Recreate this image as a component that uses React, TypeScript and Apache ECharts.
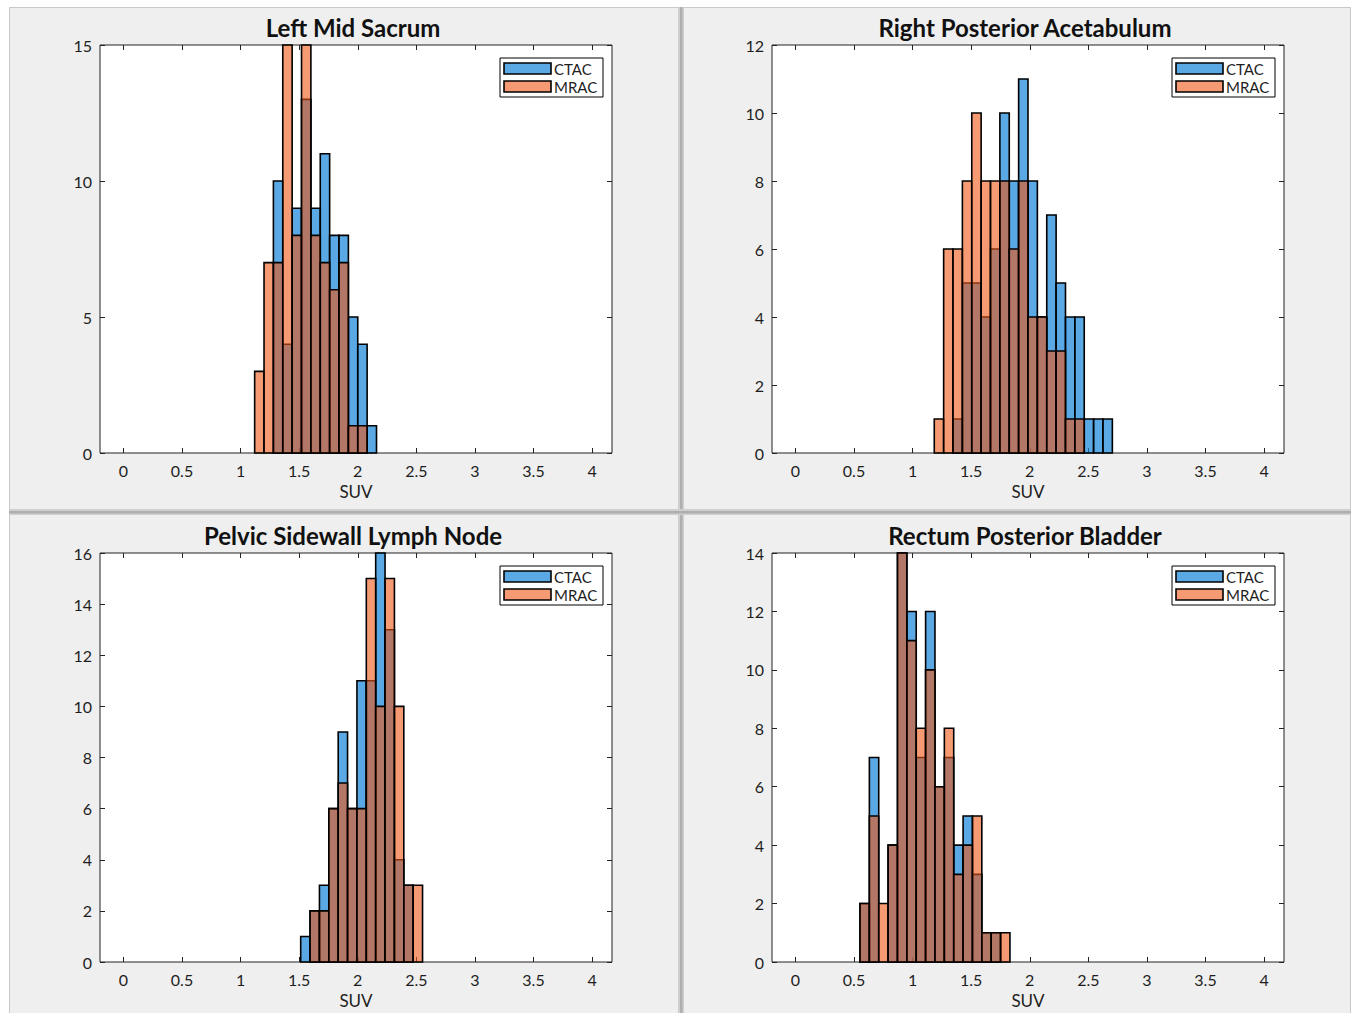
import React, { useEffect, useRef } from "react";
import * as echarts from "echarts";

// ---------- data ----------
const suvTicks = [0, 0.5, 1, 1.5, 2, 2.5, 3, 3.5, 4];
const seriesNames = ["CTAC", "MRAC"];

// Left Mid Sacrum
const lmsEdges = [1.12, 1.2, 1.28, 1.36, 1.44, 1.52, 1.6, 1.68, 1.76, 1.84, 1.92, 2.0, 2.08, 2.16];
const lmsCTAC = [0, 0, 10, 4, 9, 13, 9, 11, 8, 8, 5, 4, 1];
const lmsMRAC = [3, 7, 7, 16, 8, 16, 8, 7, 6, 7, 1, 1, 0];

// Right Posterior Acetabulum
const rpaEdges = [1.185, 1.265, 1.345, 1.425, 1.505, 1.585, 1.665, 1.745, 1.825, 1.905, 1.985, 2.065, 2.145, 2.225, 2.305, 2.385, 2.465, 2.545, 2.625, 2.705];
const rpaCTAC = [0, 0, 1, 5, 5, 4, 6, 10, 8, 11, 8, 4, 7, 5, 4, 4, 1, 1, 1];
const rpaMRAC = [1, 6, 6, 8, 10, 8, 8, 8, 6, 8, 4, 4, 3, 3, 1, 1, 0, 0, 0];

// Pelvic Sidewall Lymph Node
const pslEdges = [1.513, 1.593, 1.673, 1.753, 1.833, 1.913, 1.993, 2.073, 2.153, 2.233, 2.313, 2.393, 2.473, 2.553];
const pslCTAC = [1, 2, 3, 6, 9, 6, 11, 11, 16, 13, 4, 3, 0];
const pslMRAC = [0, 2, 2, 6, 7, 6, 6, 15, 10, 15, 10, 3, 3];

// Rectum Posterior Bladder
const rpbEdges = [0.551, 0.631, 0.711, 0.791, 0.871, 0.951, 1.031, 1.111, 1.191, 1.271, 1.351, 1.431, 1.511, 1.591, 1.671, 1.751, 1.831];
const rpbCTAC = [2, 7, 0, 4, 14, 12, 7, 12, 6, 7, 4, 5, 3, 1, 1, 0];
const rpbMRAC = [2, 5, 2, 4, 14, 11, 8, 10, 6, 8, 3, 4, 5, 1, 1, 1];

const titles = ["Left Mid Sacrum", "Right Posterior Acetabulum", "Pelvic Sidewall Lymph Node", "Rectum Posterior Bladder"];
const edgesList = [lmsEdges, rpaEdges, pslEdges, rpbEdges];
const ctacList = [lmsCTAC, rpaCTAC, pslCTAC, rpbCTAC];
const mracList = [lmsMRAC, rpaMRAC, pslMRAC, rpbMRAC];
const yMaxList = [15, 12, 16, 14];
const yStepList = [5, 2, 2, 2];

// ---------- layout / style ----------
const W = 1354;
const H = 1013;
const gridLefts = [100, 772, 100, 772];
const gridTops = [45, 45, 553, 553];
const gridHeights = [408, 408, 409, 409];
const GRID_W = 512;
const X_MIN = -0.2;
const X_MAX = 4.17;
const FONT = "Lato, 'Liberation Sans', sans-serif";
const TEXT = "#1e1e1e";
const BLUE = "rgba(20,132,218,0.7)";
const ORANGE = "rgba(238,86,20,0.6)";
const PANEL_BG = "#efefef";
const EDGE_W = 1.6;

function binData(edges: number[], counts: number[]) {
  return counts.map((c, i) => [edges[i], edges[i + 1], c]);
}

function makeRender(fill: string) {
  return (params: any, api: any) => {
    const h = api.value(2);
    if (!h) return null;
    const p0 = api.coord([api.value(0), 0]);
    const p1 = api.coord([api.value(1), h]);
    const cs = params.coordSys;
    const shape = echarts.graphic.clipRectByRect(
      { x: p0[0], y: p1[1], width: p1[0] - p0[0], height: p0[1] - p1[1] },
      { x: cs.x, y: cs.y, width: cs.width, height: cs.height }
    );
    if (!shape) return null;
    return {
      type: "rect",
      shape,
      style: { fill, stroke: "#000", lineWidth: EDGE_W },
    };
  };
}

function legendGraphic(x: number, y: number) {
  return {
    type: "group",
    x,
    y,
    children: [
      { type: "rect", shape: { x: 0, y: 0, width: 103, height: 39 }, style: { fill: "#fff", stroke: "#000", lineWidth: 1 } },
      { type: "rect", shape: { x: 4, y: 5, width: 47, height: 11 }, style: { fill: BLUE, stroke: "#000", lineWidth: EDGE_W } },
      { type: "text", x: 54, y: 11, style: { text: seriesNames[0], font: `15px ${FONT}`, fill: TEXT, verticalAlign: "middle" } },
      { type: "rect", shape: { x: 4, y: 23, width: 47, height: 11 }, style: { fill: ORANGE, stroke: "#000", lineWidth: EDGE_W } },
      { type: "text", x: 54, y: 29, style: { text: seriesNames[1], font: `15px ${FONT}`, fill: TEXT, verticalAlign: "middle" } },
    ],
  };
}

function buildOption() {
  const grid: any[] = [];
  const xAxis: any[] = [];
  const yAxis: any[] = [];
  const series: any[] = [];
  const graphic: any[] = [];

  // background panels
  graphic.push({ type: "rect", z: -10, shape: { x: 0, y: 0, width: W, height: H }, style: { fill: "#ffffff" } });
  graphic.push({ type: "rect", z: -9, shape: { x: 9.5, y: 7.5, width: 1341, height: 1010 }, style: { fill: PANEL_BG, stroke: "#c9c9c9", lineWidth: 1 } });
  graphic.push({ type: "rect", z: -8, shape: { x: 678, y: 7, width: 6, height: H }, style: { fill: "#cfcfcf" } });
  graphic.push({ type: "rect", z: -8, shape: { x: 680, y: 7, width: 2.5, height: H }, style: { fill: "#aeaeae" } });
  graphic.push({ type: "rect", z: -8, shape: { x: 9, y: 509, width: 1342, height: 6 }, style: { fill: "#cfcfcf" } });
  graphic.push({ type: "rect", z: -8, shape: { x: 9, y: 511, width: 1342, height: 2.5 }, style: { fill: "#aeaeae" } });

  const tickStyle = { color: "#222", width: 1 };

  for (let g = 0; g < 4; g++) {
    const left = gridLefts[g];
    const top = gridTops[g];
    const hgt = gridHeights[g];
    grid.push({
      left,
      top,
      width: GRID_W,
      height: hgt,
      show: true,
      backgroundColor: "#ffffff",
      borderColor: "#222",
      borderWidth: 1,
      containLabel: false,
    });
    const xBase = {
      type: "value",
      gridIndex: g,
      min: X_MIN,
      max: X_MAX,
      splitLine: { show: false },
      axisLine: { show: false, onZero: false },
    };
    xAxis.push({
      ...xBase,
      position: "bottom",
      name: "SUV",
      nameLocation: "middle",
      nameGap: 30,
      nameTextStyle: { fontFamily: FONT, fontSize: 17, color: TEXT },
      axisTick: { show: true, inside: true, length: 5, lineStyle: tickStyle, customValues: suvTicks },
      axisLabel: { show: true, margin: 9, fontFamily: FONT, fontSize: 16, color: TEXT, customValues: suvTicks },
    });
    xAxis.push({
      ...xBase,
      position: "top",
      axisTick: { show: true, inside: true, length: 5, lineStyle: tickStyle, customValues: suvTicks },
      axisLabel: { show: false },
    });
    const yBase = {
      type: "value",
      gridIndex: g,
      min: 0,
      max: yMaxList[g],
      interval: yStepList[g],
      splitLine: { show: false },
      axisLine: { show: false, onZero: false },
    };
    yAxis.push({
      ...yBase,
      position: "left",
      axisTick: { show: true, inside: true, length: 5, lineStyle: tickStyle },
      axisLabel: { show: true, margin: 8, fontFamily: FONT, fontSize: 16, color: TEXT },
    });
    yAxis.push({
      ...yBase,
      position: "right",
      axisTick: { show: true, inside: true, length: 5, lineStyle: tickStyle },
      axisLabel: { show: false },
    });

    series.push({
      type: "custom",
      name: seriesNames[0],
      xAxisIndex: 2 * g,
      yAxisIndex: 2 * g,
      renderItem: makeRender(BLUE),
      encode: { x: [0, 1], y: 2 },
      data: binData(edgesList[g], ctacList[g]),
      z: 2,
    });
    series.push({
      type: "custom",
      name: seriesNames[1],
      xAxisIndex: 2 * g,
      yAxisIndex: 2 * g,
      renderItem: makeRender(ORANGE),
      encode: { x: [0, 1], y: 2 },
      data: binData(edgesList[g], mracList[g]),
      z: 3,
    });

    graphic.push({
      type: "text",
      x: left + GRID_W / 2 - 3,
      y: top - 18,
      z: 5,
      style: { text: titles[g], font: `bold 24px ${FONT}`, fill: "#111", textAlign: "center", textVerticalAlign: "middle" },
    });
    graphic.push({ ...legendGraphic(left + 400, top + 13), z: 10 });
  }

  return {
    animation: false,
    backgroundColor: "#ffffff",
    grid,
    xAxis,
    yAxis,
    series,
    graphic,
  };
}

export default function App() {
  const ref = useRef<HTMLDivElement>(null);
  useEffect(() => {
    if (!ref.current) return;
    const chart = echarts.init(ref.current, undefined, { renderer: "svg" });
    chart.setOption(buildOption() as any);
    return () => chart.dispose();
  }, []);
  return (
    <div
      ref={ref}
      style={{ position: "fixed", left: 0, top: 0, width: W, height: H }}
    />
  );
}
